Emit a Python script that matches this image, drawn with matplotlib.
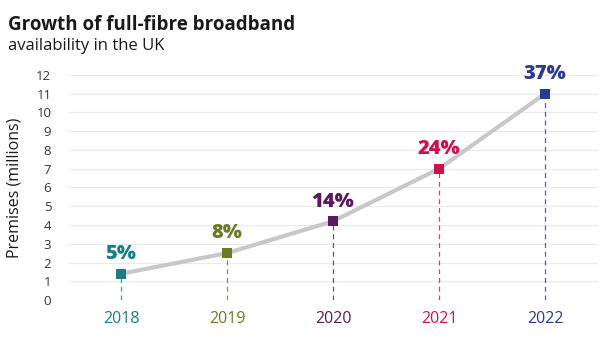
import matplotlib.pyplot as plt

plt.rcParams['font.family'] = ['Open Sans', 'DejaVu Sans']

years = [2018, 2019, 2020, 2021, 2022]
premises = [1.4, 2.5, 4.2, 7.0, 11.0]
shares = ['5%', '8%', '14%', '24%', '37%']
colors = ['#1b7d86', '#6c7b26', '#5b1a5f', '#d1114c', '#2c3a8f']

fig = plt.figure(figsize=(6.08, 3.42), dpi=100)
ax = fig.add_axes([68 / 608, 1 - 300 / 342, 530 / 608, 225 / 342])

# light horizontal grid
for v in range(0, 13):
    ax.axhline(v, color='#ebebeb', lw=0.9, zorder=0)

ax.plot(years, premises, color='#c8c8c8', lw=3, zorder=2, solid_capstyle='round')

for x, y, lab, c in zip(years, premises, shares, colors):
    ax.vlines(x, 0, y, color=c, lw=0.9, linestyles=(0, (4, 3)), zorder=1, alpha=0.8)
    ax.scatter([x], [y], marker='s', s=60, color=c, zorder=3, linewidths=0)
    ax.annotate(lab, (x, y), xytext=(0, 7), textcoords='offset points',
                ha='center', va='bottom', fontsize=14.5, fontweight='heavy', color=c)

ax.set_xlim(2017.5, 2022.5)
ax.set_ylim(0, 12)
ax.set_yticks(range(0, 13))
ax.set_xticks(years)
ax.set_xticklabels([str(y) for y in years], fontsize=11.5)
for t, c in zip(ax.get_xticklabels(), colors):
    t.set_color(c)
ax.tick_params(axis='y', labelsize=9.5, labelcolor='#333333', length=0, pad=12)
ax.tick_params(axis='x', length=0, pad=8)
for s in ax.spines.values():
    s.set_visible(False)

ax.set_ylabel('Premises (millions)', fontsize=11.5, color='#1a1a1a', labelpad=10)

fig.text(8 / 608, 1 - 30 / 342, 'Growth of full-fibre broadband', fontsize=13.5,
         fontweight='bold', color='#1a1a1a', ha='left', va='baseline')
fig.text(8 / 608, 1 - 50 / 342, 'availability in the UK', fontsize=12,
         color='#1a1a1a', ha='left', va='baseline')

fig.savefig('out.png', dpi=100)
